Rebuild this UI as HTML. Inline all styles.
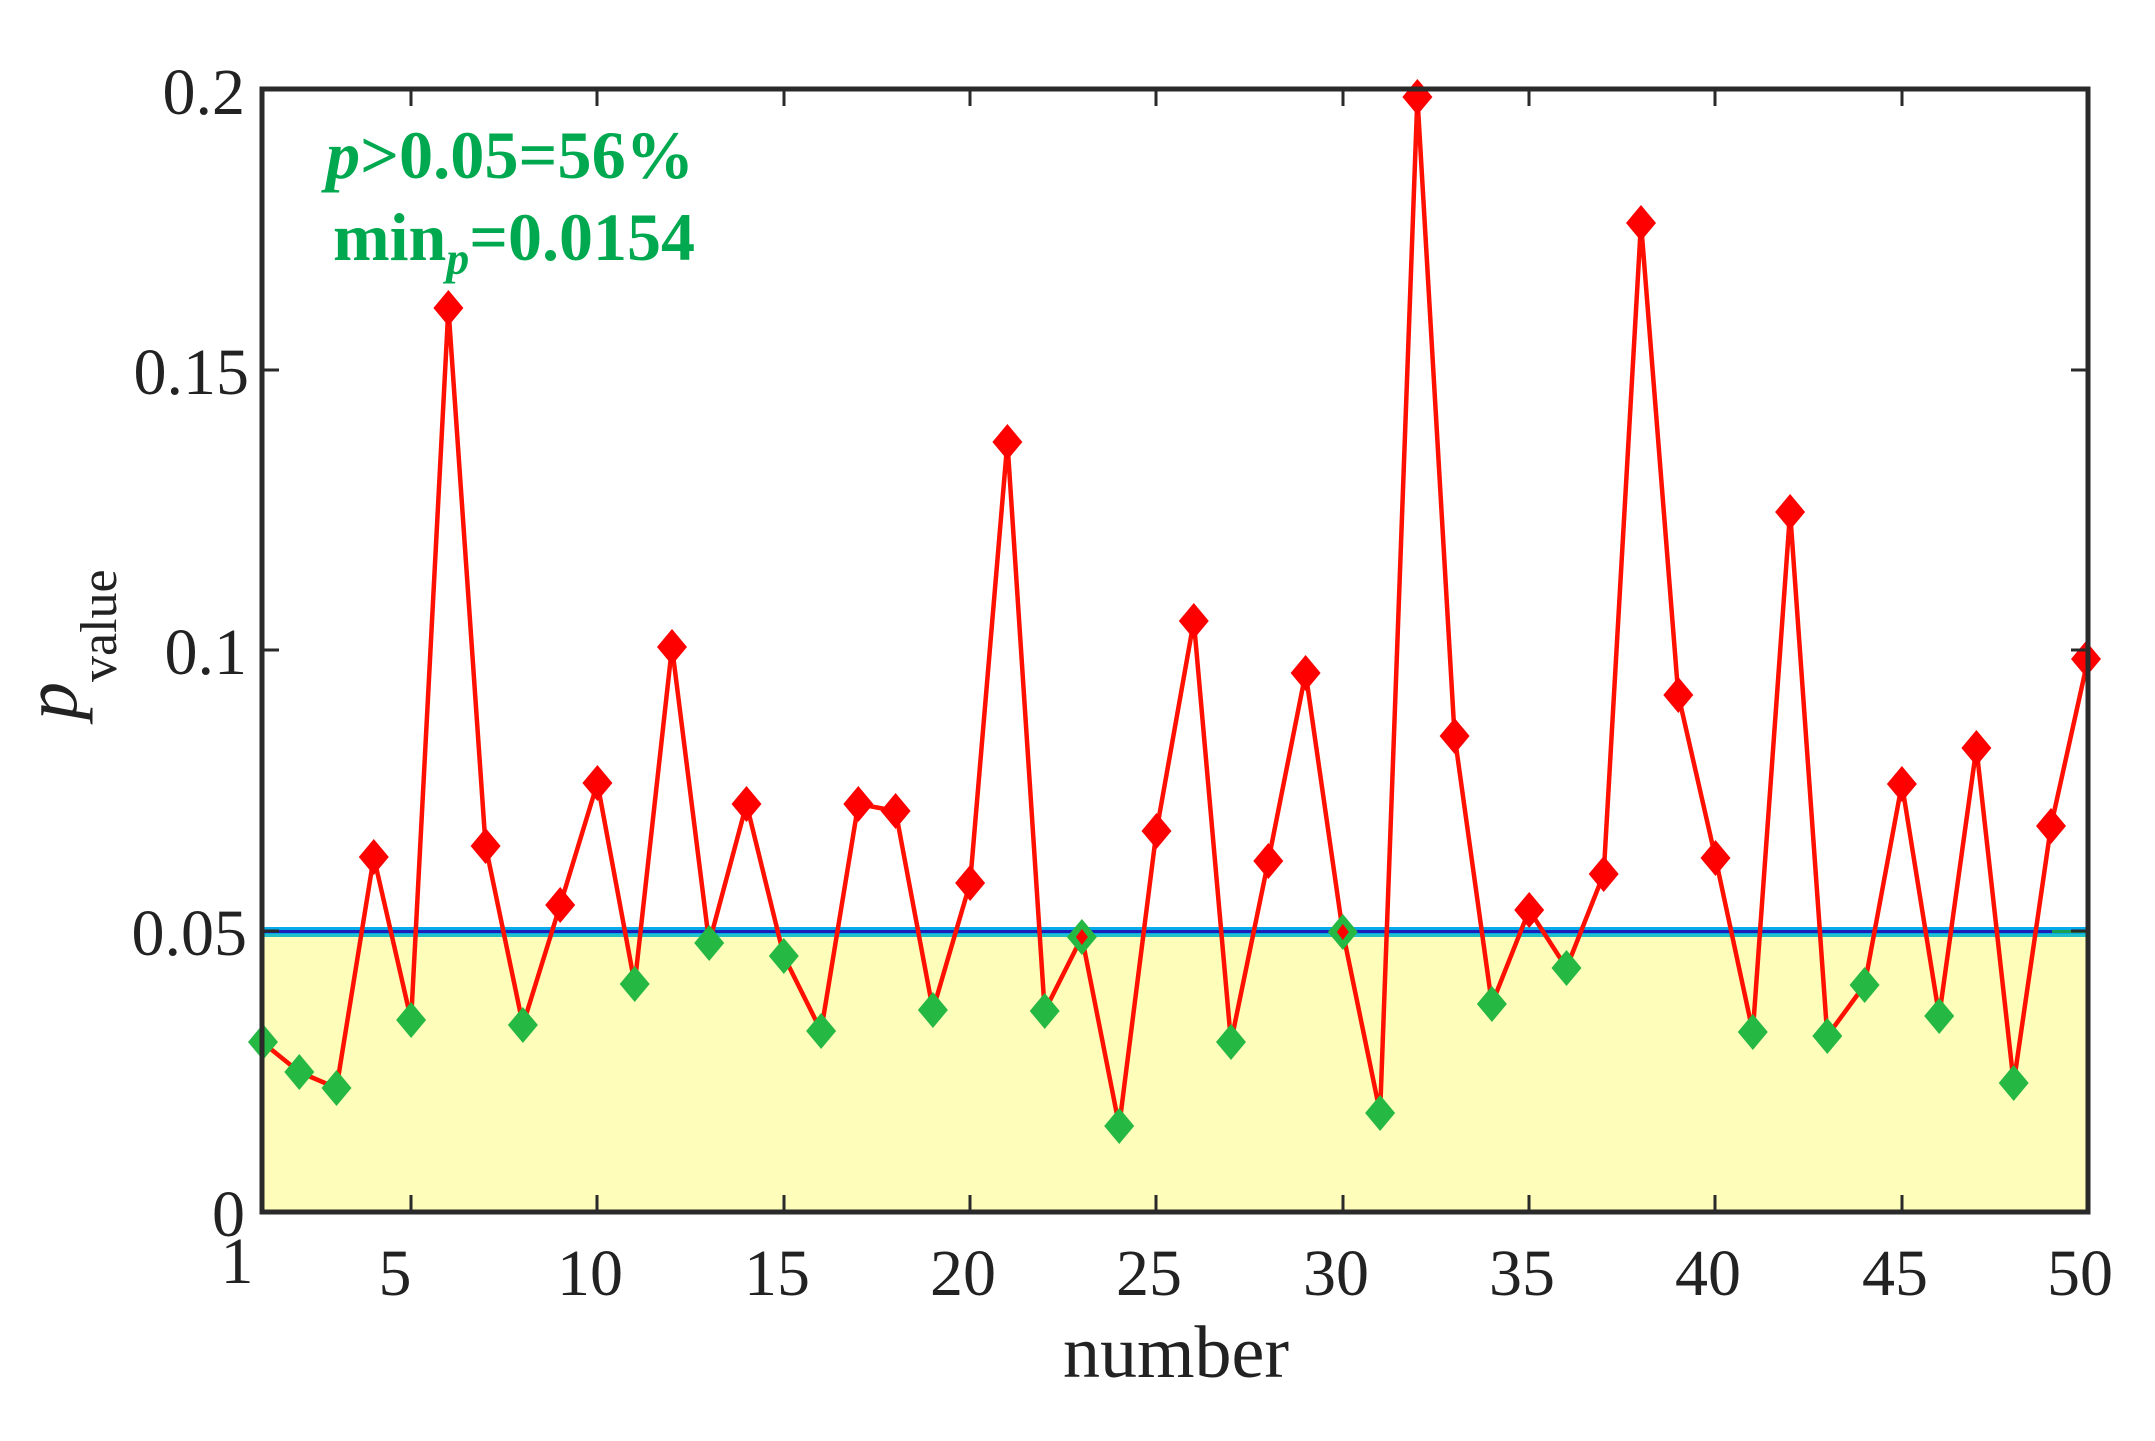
<!DOCTYPE html>
<html><head><meta charset="utf-8"><style>
html,body{margin:0;padding:0;background:#fff;}
svg{display:block;}
</style></head><body>
<svg width="2155" height="1441" viewBox="0 0 2155 1441" xmlns="http://www.w3.org/2000/svg">
<defs>
<polygon id="dm" points="0,-18 15,0 0,18 -15,0"/>
<polygon id="ds" points="0,-8 6,0 0,8 -6,0"/>
</defs>
<rect x="0" y="0" width="2155" height="1441" fill="#fff"/>
<rect x="262" y="934" width="1826" height="278" fill="#fefdb9"/>
<rect x="262" y="927" width="1826" height="10" fill="#06aaea"/>
<rect x="262" y="934" width="1826" height="3" fill="#22c0c8"/>
<rect x="262" y="930" width="1826" height="3" fill="#1a20b8"/>
<line x1="2052" y1="931.5" x2="2090" y2="931.5" stroke="#1aa050" stroke-width="3"/>
<polyline fill="none" stroke="#ff1000" stroke-width="4.5" stroke-linejoin="round" points="262,1042 299.3,1072 336.5,1088 373.8,857 411.1,1020 448.4,308 485.6,846 522.9,1025 560.2,905 597.4,783 634.7,984 672,647 709.2,943 746.5,804 783.8,956 821.1,1031 858.3,804 895.6,811 932.9,1010 970.1,883 1007.4,442 1044.7,1011 1081.9,937 1119.2,1126 1156.5,831 1193.8,621 1231,1042 1268.3,861 1305.6,673 1342.8,932 1380.1,1113 1417.4,97 1454.6,736 1491.9,1004 1529.2,910 1566.5,968 1603.7,874 1641,223 1678.3,695 1715.5,858 1752.8,1032 1790.1,512 1827.3,1036 1864.6,985 1901.9,784 1939.2,1016 1976.4,748 2013.7,1083 2051,826 2088,659"/>
<g fill="#25b944">
<use href="#dm" x="263" y="1042"/><use href="#dm" x="299.3" y="1072"/><use href="#dm" x="336.5" y="1088"/>
<use href="#dm" x="411.1" y="1020"/><use href="#dm" x="522.9" y="1025"/><use href="#dm" x="634.7" y="984"/>
<use href="#dm" x="709.2" y="943"/><use href="#dm" x="783.8" y="956"/><use href="#dm" x="821.1" y="1031"/>
<use href="#dm" x="932.9" y="1010"/><use href="#dm" x="1044.7" y="1011"/><use href="#dm" x="1081.9" y="937"/>
<use href="#dm" x="1119.2" y="1126"/><use href="#dm" x="1231" y="1042"/><use href="#dm" x="1342.8" y="932"/>
<use href="#dm" x="1380.1" y="1113"/><use href="#dm" x="1491.9" y="1004"/><use href="#dm" x="1566.5" y="968"/>
<use href="#dm" x="1752.8" y="1032"/><use href="#dm" x="1827.3" y="1036"/><use href="#dm" x="1864.6" y="985"/>
<use href="#dm" x="1939.2" y="1016"/><use href="#dm" x="2013.7" y="1083"/>
</g>
<g fill="#ff0000">
<use href="#ds" x="1081.9" y="937"/><use href="#ds" x="1342.8" y="932"/>
<use href="#dm" x="373.8" y="857"/><use href="#dm" x="448.4" y="308"/><use href="#dm" x="485.6" y="846"/>
<use href="#dm" x="560.2" y="905"/><use href="#dm" x="597.4" y="783"/><use href="#dm" x="672" y="647"/>
<use href="#dm" x="746.5" y="804"/><use href="#dm" x="858.3" y="804"/><use href="#dm" x="895.6" y="811"/>
<use href="#dm" x="970.1" y="883"/><use href="#dm" x="1007.4" y="442"/><use href="#dm" x="1156.5" y="831"/>
<use href="#dm" x="1193.8" y="621"/><use href="#dm" x="1268.3" y="861"/><use href="#dm" x="1305.6" y="673"/>
<use href="#dm" x="1417.4" y="97"/><use href="#dm" x="1454.6" y="736"/><use href="#dm" x="1529.2" y="910"/>
<use href="#dm" x="1603.7" y="874"/><use href="#dm" x="1641" y="223"/><use href="#dm" x="1678.3" y="695"/>
<use href="#dm" x="1715.5" y="858"/><use href="#dm" x="1790.1" y="512"/><use href="#dm" x="1901.9" y="784"/>
<use href="#dm" x="1976.4" y="748"/><use href="#dm" x="2051" y="826"/><use href="#dm" x="2086" y="659"/>
</g>
<g stroke="#2a2a2a" stroke-width="3">
<path d="M411,1212v-17M597,1212v-17M784,1212v-17M970,1212v-17M1156,1212v-17M1343,1212v-17M1529,1212v-17M1715,1212v-17M1902,1212v-17"/>
<path d="M411,89v17M597,89v17M784,89v17M970,89v17M1156,89v17M1343,89v17M1529,89v17M1715,89v17M1902,89v17"/>
<path d="M262,931h17M262,650h17M262,370h17M2088,931h-17M2088,650h-17M2088,370h-17"/>
</g>
<rect x="262" y="89" width="1826" height="1123" fill="none" stroke="#2a2a2a" stroke-width="5"/>
<g font-family="Liberation Serif, serif" font-size="66" fill="#222">
<g text-anchor="end">
<text x="245" y="1236">0</text>
<text x="247" y="955">0.05</text>
<text x="247" y="674">0.1</text>
<text x="249" y="394">0.15</text>
<text x="245" y="114">0.2</text>
</g>
<g text-anchor="middle">
<text x="237" y="1283">1</text>
<text x="395" y="1295">5</text>
<text x="590" y="1295">10</text>
<text x="777" y="1295">15</text>
<text x="963" y="1295">20</text>
<text x="1149" y="1295">25</text>
<text x="1336" y="1295">30</text>
<text x="1522" y="1295">35</text>
<text x="1708" y="1295">40</text>
<text x="1895" y="1295">45</text>
<text x="2080" y="1295">50</text>
</g>
<text x="1176" y="1377" font-size="74" text-anchor="middle">number</text>
<text transform="translate(76,720) rotate(-90)" font-size="76"><tspan font-style="italic">p</tspan><tspan font-size="52" dy="40">value</tspan></text>
</g>
<g font-family="Liberation Serif, serif" font-weight="bold" fill="#00a94f" font-size="68" text-anchor="middle">
<text x="510" y="178" textLength="368" lengthAdjust="spacingAndGlyphs"><tspan font-style="italic">p</tspan>&gt;0.05=56%</text>
<text x="514" y="260">min<tspan font-style="italic" font-size="46" dy="14">p</tspan><tspan dy="-14">=0.0154</tspan></text>
</g>
</svg>
</body></html>
